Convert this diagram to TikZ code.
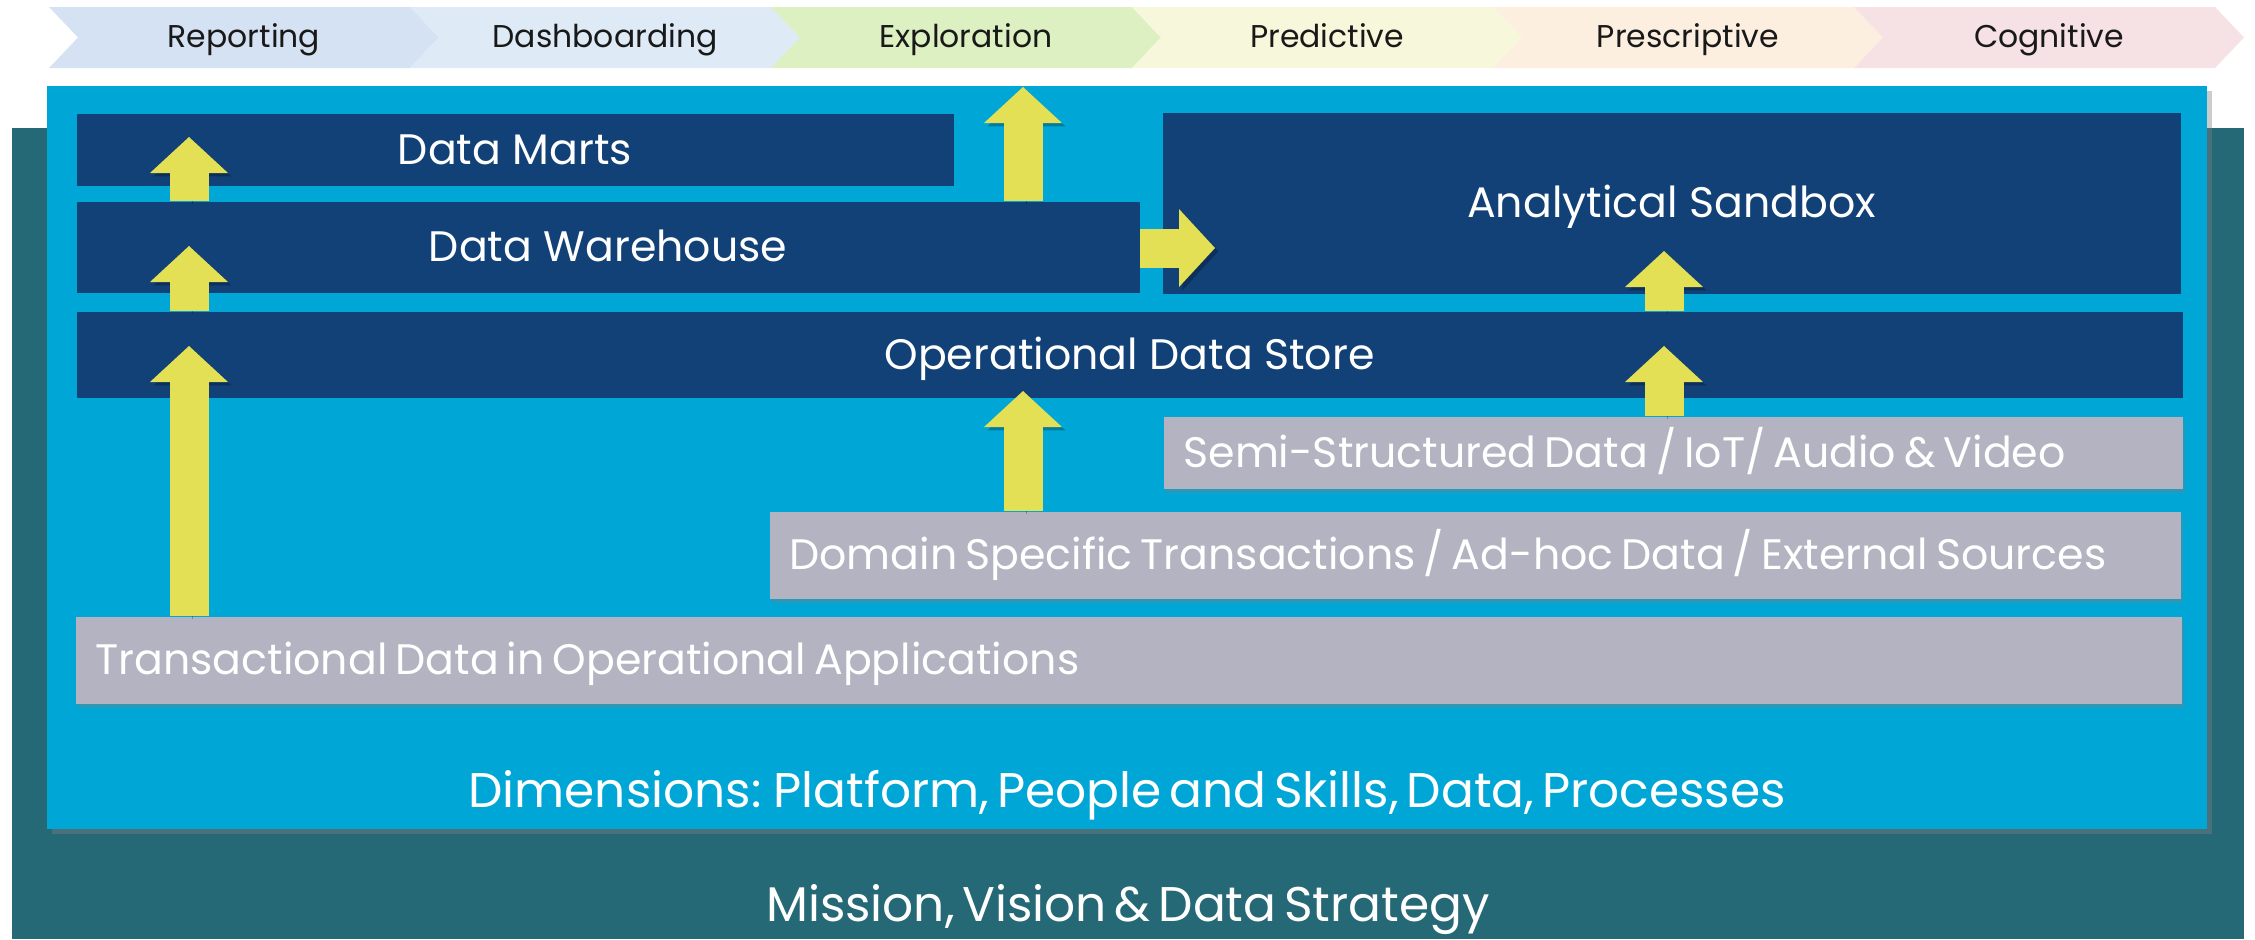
\documentclass[tikz,border=0pt]{standalone}
\usepackage{fontspec}
\setmainfont{Poppins}
\usetikzlibrary{arrows.meta,shadows}

\newcommand\tightspace[1]{\spaceskip=#1\fontdimen2\font\relax}

\definecolor{stratteal}{RGB}{37,104,118}
\definecolor{dimblue}{RGB}{0,166,214}
\definecolor{layernavy}{RGB}{17,65,119}
\definecolor{sourcegrey}{RGB}{179,179,193}
\definecolor{flowyellow}{RGB}{227,224,85}
\definecolor{stagereport}{RGB}{213,226,243}
\definecolor{stagedash}{RGB}{222,234,246}
\definecolor{stageexplore}{RGB}{221,240,194}
\definecolor{stagepredict}{RGB}{247,247,219}
\definecolor{stageprescribe}{RGB}{252,239,224}
\definecolor{stagecognitive}{RGB}{246,225,229}

\tikzset{every picture/.style={line width=0.75pt}}
\tikzset{
  stagetext/.style={inner sep=0pt, text=black!90, text height=16.5pt, text depth=0pt, font=\fontsize{23.6}{28}\selectfont},
  layer/.style={anchor=north west, fill=layernavy, text=white, inner sep=0pt, text height=22.3pt, text depth=0pt, font=\fontsize{32}{38}\selectfont},
  source/.style={anchor=north west, fill=sourcegrey, text=white, inner xsep=15pt, inner ysep=0pt, align=left, text height=22.3pt, text depth=0pt, font=\fontsize{32}{38}\selectfont, execute at begin node={\tightspace{0.7}}, drop shadow={shadow xshift=1.5pt, shadow yshift=-3pt, opacity=0.35}},
  bigtext/.style={anchor=base, text=white, inner sep=0pt, font=\fontsize{36.5}{44}\selectfont\tightspace{0.6}},
  flow/.style={draw=flowyellow, line width=29.25pt, -{Triangle[length=27pt, width=58.5pt, line width=0pt]},
    preaction={draw=black, opacity=0.25, transform canvas={shift={(2.5pt,-2.5pt)}}}}
}

\begin{document}
\begin{tikzpicture}[x=0.75pt,y=0.75pt,yscale=-1,xscale=1]
        \useasboundingbox (0,0) rectangle (2255,939);

        %Shape: Rectangle [id:strategy]
        \fill[stratteal] (12,128) rectangle (2244,939);
        %Shape: Rectangle [id:dimensions]
        \fill[dimblue, drop shadow={shadow xshift=4pt, shadow yshift=-4pt, opacity=0.4}] (47,86) rectangle (2207,829);

        %Shape: Chevron [id:reporting]
        \fill[stagereport] (49,7) -- (410,7) -- (439,37.5) -- (410,68) -- (49,68) -- (78,37.5) -- cycle ;
        %Shape: Chevron [id:dashboarding]
        \fill[stagedash] (410,7) -- (771,7) -- (800,37.5) -- (771,68) -- (410,68) -- (439,37.5) -- cycle ;
        %Shape: Chevron [id:exploration]
        \fill[stageexplore] (771,7) -- (1132,7) -- (1161,37.5) -- (1132,68) -- (771,68) -- (800,37.5) -- cycle ;
        %Shape: Chevron [id:predictive]
        \fill[stagepredict] (1132,7) -- (1493,7) -- (1522,37.5) -- (1493,68) -- (1132,68) -- (1161,37.5) -- cycle ;
        %Shape: Chevron [id:prescriptive]
        \fill[stageprescribe] (1493,7) -- (1854,7) -- (1883,37.5) -- (1854,68) -- (1493,68) -- (1522,37.5) -- cycle ;
        %Shape: Chevron [id:cognitive]
        \fill[stagecognitive] (1854,7) -- (2215,7) -- (2244,37.5) -- (2215,68) -- (1854,68) -- (1883,37.5) -- cycle ;

        % Text Node
        \draw (244,36.5) node (reporting) [stagetext] {Reporting};
        % Text Node
        \draw (605,36.5) node (dashboarding) [stagetext] {Dashboarding};
        % Text Node
        \draw (966,36.5) node (exploration) [stagetext] {Exploration};
        % Text Node
        \draw (1327,36.5) node (predictive) [stagetext] {Predictive};
        % Text Node
        \draw (1688,36.5) node (prescriptive) [stagetext] {Prescriptive};
        % Text Node
        \draw (2049,36.5) node (cognitive) [stagetext] {Cognitive};

        % Layers
        \draw (76,113) node (dm) [layer, minimum width=657.75pt, minimum height=54pt] {Data Marts};
        \draw (76,201) node (dw) [layer, minimum width=797.25pt, minimum height=68.25pt] {Data Warehouse};
        \draw (1162,112) node (sandbox) [layer, minimum width=763.5pt, minimum height=135.75pt] {Analytical Sandbox};
        \draw (76,311) node (ods) [layer, minimum width=1579.5pt, minimum height=64.5pt] {Operational Data Store};

        % Sources
        \draw (1163,416) node (semi) [source, text width=734.25pt, minimum height=54pt] {Semi-Structured Data / IoT/ Audio \& Video};
        \draw (769,511) node (domain) [source, text width=1028.25pt, minimum height=65.25pt] {Domain Specific Transactions / Ad-hoc Data / External Sources};
        \draw (75,616) node (trans) [source, text width=1549.5pt, minimum height=65.25pt] {Transactional Data in Operational Applications};

        % Text Node
        \draw (1127,807) node (dimtext) [bigtext] {Dimensions: Platform, People and Skills, Data, Processes};
        % Text Node
        \draw (1128,921) node (strattext) [bigtext] {Mission, Vision \& Data Strategy};

        % Arrow tips
        \coordinate (dmtip) at (189,137);
        \coordinate (dwtip) at (189,246);
        \coordinate (odstip) at (189,346);
        \coordinate (exploretip) at (1023,87);
        \coordinate (domaintip) at (1023,391);
        \coordinate (semitip) at (1664,346);
        \coordinate (sandtip) at (1664,251);
        \coordinate (sidetip) at (1215,248);

        %Block Arrows
        \draw[flow] (dw.north -| dmtip) -- (dmtip);
        \draw[flow] (ods.north -| dwtip) -- (dwtip);
        \draw[flow] (trans.north -| odstip) -- (odstip);
        \draw[flow] (dw.north -| exploretip) -- (exploretip);
        \draw[flow] (domain.north -| domaintip) -- (domaintip);
        \draw[flow] (semi.north -| semitip) -- (semitip);
        \draw[flow] (ods.north -| sandtip) -- (sandtip);
        \draw[flow] (dw.east |- sidetip) -- (sidetip);

\end{tikzpicture}
\end{document}
